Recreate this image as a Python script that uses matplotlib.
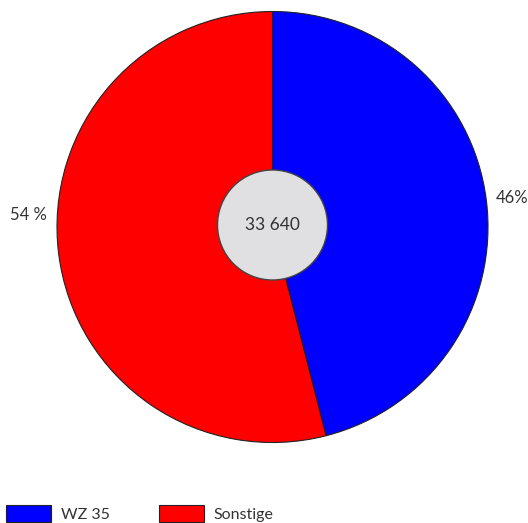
import matplotlib.pyplot as plt
from matplotlib.patches import Circle

# data
categories = ['WZ 35', 'Sonstige']
shares = [46, 54]
share_labels = ['46%', '54 %']
colors = ['#0000ff', '#ff0000']
total_label = '33 640'

plt.rcParams['font.family'] = ['Lato', 'DejaVu Sans']

W, H = 528, 523
fig = plt.figure(figsize=(W / 100, H / 100), dpi=100)
ax = fig.add_axes([0, 0, 1, 1])

cx, cy, r = 272.5, H - 227, 215.5
wedges, _ = ax.pie(shares, colors=colors, startangle=90, counterclock=False,
                   center=(cx, cy), radius=r, frame=True,
                   wedgeprops=dict(edgecolor='#222222', linewidth=0.8))
ax.set_xlim(0, W)
ax.set_ylim(0, H)
ax.set_aspect('equal')
ax.axis('off')

# centre disc with the total
ax.add_patch(Circle((cx, cy + 2), 55, facecolor='#e0e0e2', edgecolor='#444444',
                    linewidth=1.0, zorder=5))
ax.text(cx, cy + 2, total_label, ha='center', va='center', fontsize=12.5,
        color='#333333', zorder=6)

# share labels left/right of the pie
ax.text(512, H - 198, share_labels[0], ha='center', va='center', fontsize=12, color='#333333')
ax.text(28, H - 215, share_labels[1], ha='center', va='center', fontsize=12, color='#333333')

leg = fig.legend(wedges, categories, loc='lower left', bbox_to_anchor=(0.0, -0.01),
                 ncol=2, frameon=False, fontsize=11.5, handlelength=2.8,
                 handleheight=1.25, handletextpad=0.6, columnspacing=3.1,
                 borderaxespad=0.2, borderpad=0.2)
for t in leg.get_texts():
    t.set_color('#333333')

fig.savefig('out.png', dpi=100)
